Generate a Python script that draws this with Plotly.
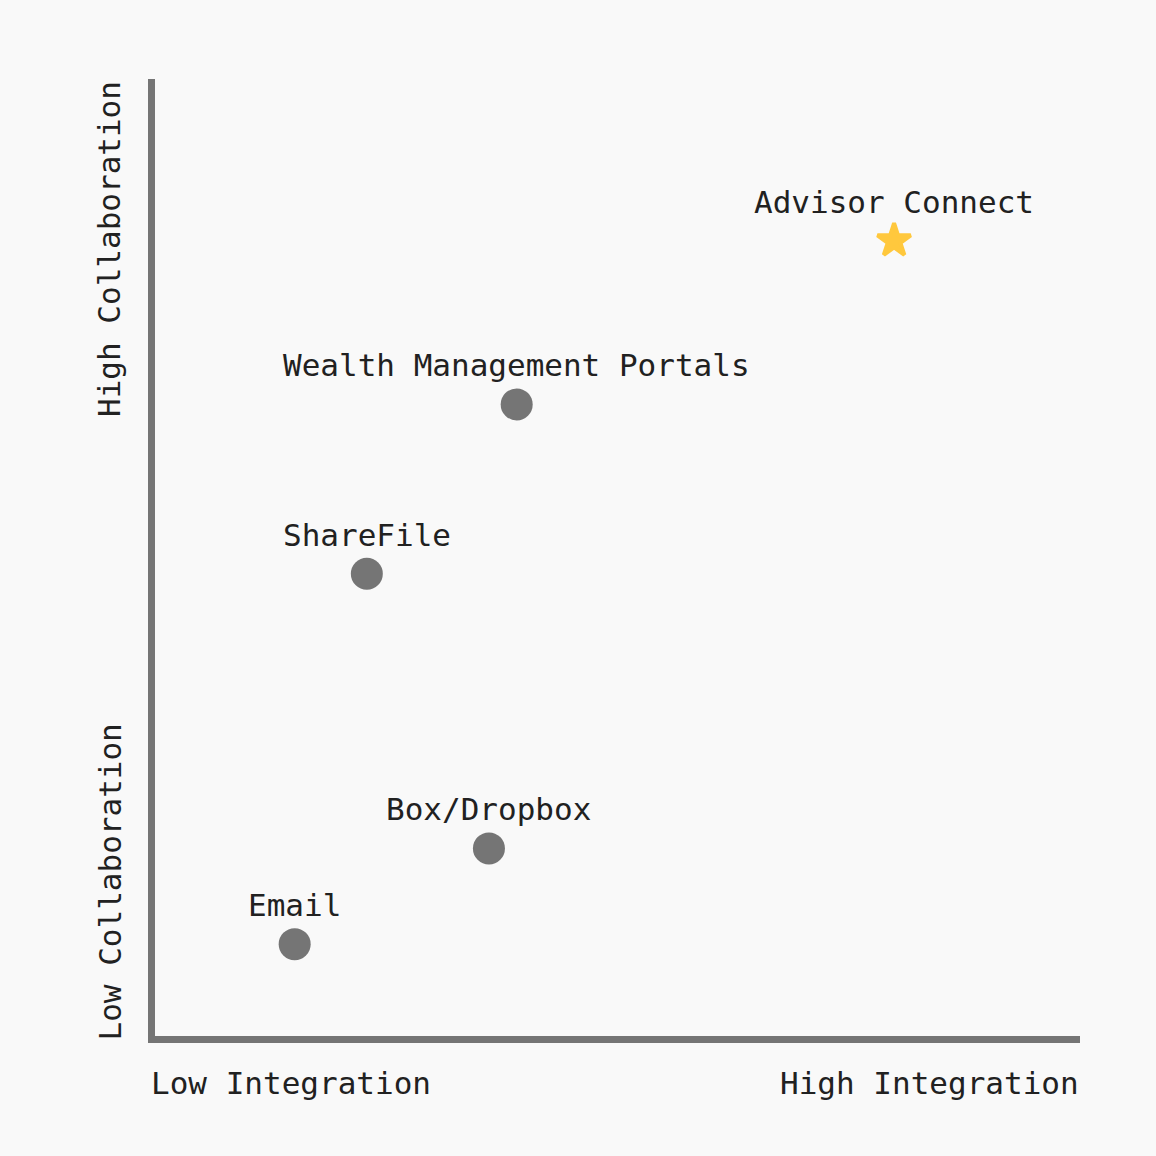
import plotly.graph_objects as go

names = ["Email", "Box/Dropbox", "ShareFile", "Wealth Management Portals", "Advisor Connect"]
integration = [15.1, 36.1, 22.9, 39.1, 79.9]
collaboration = [9.6, 19.6, 48.3, 66.0, 83.1]
symbols = ["circle", "circle", "circle", "circle", "star"]
colors = ["#757575", "#757575", "#757575", "#757575", "#FFC83D"]
sizes = [32, 32, 32, 32, 25]
line_widths = [0, 0, 0, 0, 4]

FONT = "DejaVu Sans Mono, Liberation Mono, monospace"
TXT = "#212121"

fig = go.Figure()
fig.add_trace(go.Scatter(
    x=integration, y=collaboration, mode="markers",
    marker=dict(symbol=symbols, color=colors, size=sizes, opacity=1,
                line=dict(width=line_widths, color=colors)),
    hoverinfo="text", text=names, showlegend=False,
))

annotations = []
for n, xv, yv in zip(names, integration, collaboration):
    annotations.append(dict(x=xv, y=yv, xref="x", yref="y", text=n, showarrow=False,
                            xanchor="center", yanchor="middle", yshift=39,
                            font=dict(family=FONT, size=31, color=TXT)))

annotations += [
    dict(x=0, y=0, xref="paper", yref="paper", text="Low Integration", showarrow=False,
         xanchor="left", yanchor="middle", yshift=-47, xshift=-6,
         font=dict(family=FONT, size=31, color=TXT)),
    dict(x=1, y=0, xref="paper", yref="paper", text="High Integration", showarrow=False,
         xanchor="right", yanchor="middle", yshift=-47, xshift=1,
         font=dict(family=FONT, size=31, color=TXT)),
    dict(x=0, y=0, xref="paper", yref="paper", text="Low Collaboration", showarrow=False,
         textangle=-90, xanchor="center", yanchor="bottom", xshift=-46, yshift=-7,
         font=dict(family=FONT, size=31, color=TXT)),
    dict(x=0, y=1, xref="paper", yref="paper", text="High Collaboration", showarrow=False,
         textangle=-90, xanchor="center", yanchor="top", xshift=-46, yshift=0,
         font=dict(family=FONT, size=31, color=TXT)),
]

fig.update_layout(
    width=1156, height=1156,
    margin=dict(l=155, r=76, t=79, b=120),
    paper_bgcolor="#F9F9F9", plot_bgcolor="#F9F9F9",
    xaxis=dict(range=[0, 100], showgrid=False, zeroline=False, showticklabels=False,
               ticks="", showline=True, linecolor="#757575", linewidth=7),
    yaxis=dict(range=[0, 100], showgrid=False, zeroline=False, showticklabels=False,
               ticks="", showline=True, linecolor="#757575", linewidth=7),
    annotations=annotations,
)

fig.write_html("out.html", config={"displayModeBar": False},
               post_script="document.body.style.margin='0';document.body.style.background='#F9F9F9';")
